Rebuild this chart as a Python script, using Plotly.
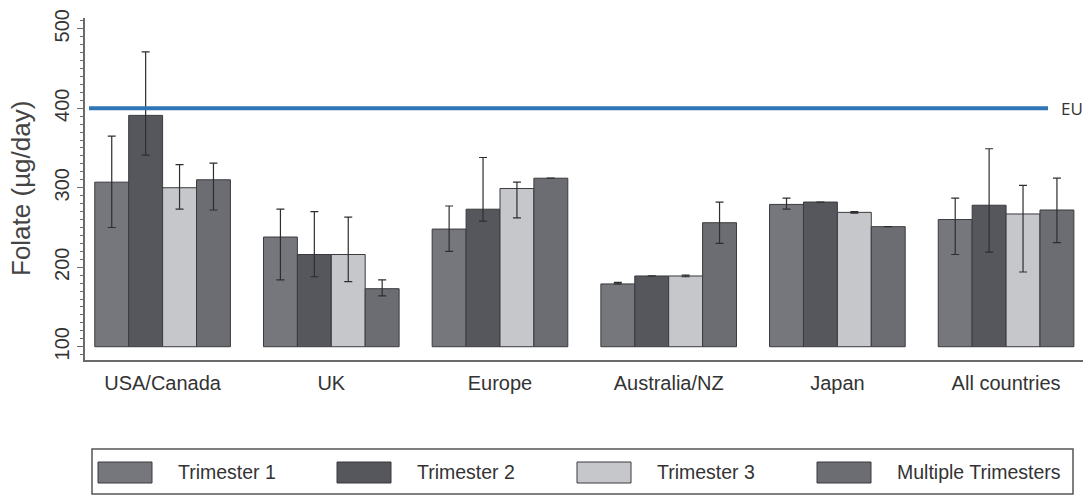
import plotly.graph_objects as go

# Region categories and dietary folate intake by trimester (µg/day)
regions = ["USA/Canada", "UK", "Europe", "Australia/NZ", "Japan", "All countries"]
series_names = ["Trimester 1", "Trimester 2", "Trimester 3", "Multiple Trimesters"]

trimester1 = [307, 238, 248, 179, 279, 260]
trimester2 = [391, 216, 273, 189, 282, 278]
trimester3 = [300, 216, 299, 189, 269, 267]
multiple = [310, 173, 312, 256, 251, 272]

# 95% confidence limits (None where no interval is reported)
t1_lo = [250, 184, 220, 179, 273, 216]
t1_hi = [365, 273, 277, 181, 287, 287]
t2_lo = [341, 188, 258, None, None, 219]
t2_hi = [471, 270, 338, None, None, 349]
t3_lo = [273, 182, 262, 188, 268, 194]
t3_hi = [329, 263, 307, 190, 270, 303]
m_lo = [272, 164, None, 230, None, 231]
m_hi = [331, 184, None, 282, None, 312]

eu_reference = 400
y_ticks = [100, 200, 300, 400, 500]

colors = ["#76777c", "#55575c", "#c5c7ca", "#6b6d72"]
BASE = 100

TEXT_FONT = "Liberation Sans, Arial, sans-serif"

# plot-area geometry in pixels (used to place the hand-drawn legend)
L, R, T, B = 85, 1083, 18, 360


def px_x(px):
    return (px - L) / (R - L)


def px_y(py):
    return (B - py) / (B - T)


fig = go.Figure()

for name, vals, lo, hi, col in zip(
    series_names,
    [trimester1, trimester2, trimester3, multiple],
    [t1_lo, t2_lo, t3_lo, m_lo],
    [t1_hi, t2_hi, t3_hi, m_hi],
    colors,
):
    plus = [(h - v) if h is not None else 0 for v, h in zip(vals, hi)]
    minus = [(v - l) if l is not None else 0 for v, l in zip(vals, lo)]
    vis = [h is not None for h in hi]
    fig.add_trace(
        go.Bar(
            name=name,
            x=regions,
            y=[v - BASE for v in vals],
            base=BASE,
            marker=dict(color=col, line=dict(color="#3a3b3e", width=1)),
            error_y=dict(
                type="data",
                symmetric=False,
                array=[p if s else None for p, s in zip(plus, vis)],
                arrayminus=[m if s else None for m, s in zip(minus, vis)],
                color="#2e2e2e",
                thickness=1.2,
                width=4,
            ),
            showlegend=False,
            hoverinfo="skip",
        )
    )

# EU reference line
fig.add_shape(
    type="line",
    xref="paper",
    yref="y",
    x0=px_x(89),
    x1=px_x(1048),
    y0=eu_reference,
    y1=eu_reference,
    line=dict(color="#2e75b6", width=4),
)
fig.add_annotation(
    xref="paper",
    yref="y",
    x=px_x(1059),
    y=eu_reference,
    text="EU",
    showarrow=False,
    xanchor="left",
    yanchor="middle",
    font=dict(family="Open Sans, sans-serif", size=17, color="#333333"),
)

# y-axis title
fig.add_annotation(
    xref="paper",
    yref="paper",
    x=px_x(21),
    y=px_y(189),
    text="Folate (µg/day)",
    textangle=-90,
    showarrow=False,
    xanchor="center",
    yanchor="middle",
    font=dict(family=TEXT_FONT, size=26, color="#444444"),
)

# legend box with large swatches
fig.add_shape(
    type="rect",
    xref="paper",
    yref="paper",
    x0=px_x(92),
    x1=px_x(1073),
    y0=px_y(449),
    y1=px_y(494),
    line=dict(color="#555555", width=1.5),
    fillcolor="white",
)
swatch_left = [98, 337, 577, 817]
for name, col, sx in zip(series_names, colors, swatch_left):
    fig.add_shape(
        type="rect",
        xref="paper",
        yref="paper",
        x0=px_x(sx),
        x1=px_x(sx + 54),
        y0=px_y(462),
        y1=px_y(483),
        line=dict(color="#3a3b3e", width=1),
        fillcolor=col,
    )
    fig.add_annotation(
        xref="paper",
        yref="paper",
        x=px_x(sx + 78),
        y=px_y(472),
        text=name,
        showarrow=False,
        xanchor="left",
        yanchor="middle",
        font=dict(family=TEXT_FONT, size=19.5, color="#333333"),
    )

fig.update_layout(
    width=1090,
    height=498,
    margin=dict(l=L, r=1090 - R, t=T, b=498 - B),
    paper_bgcolor="white",
    plot_bgcolor="white",
    barmode="group",
    bargap=0.196,
    bargroupgap=0,
    showlegend=False,
)

fig.update_xaxes(
    type="category",
    range=[-0.46, 5.456],
    showline=True,
    linecolor="#6a6a6a",
    linewidth=1.5,
    ticks="",
    ticklabelstandoff=4,
    showgrid=False,
    tickfont=dict(family=TEXT_FONT, size=20, color="#333333"),
)

fig.update_yaxes(
    range=[83.3, 513.5],
    showline=True,
    linecolor="#6a6a6a",
    linewidth=1.5,
    showgrid=False,
    zeroline=False,
    tickmode="array",
    tickvals=y_ticks,
    ticktext=[str(v) for v in y_ticks],
    ticks="outside",
    ticklen=6,
    tickcolor="#6a6a6a",
    tickangle=-90,
    minor=dict(dtick=10, tick0=100, ticks="outside", ticklen=3, tickcolor="#6a6a6a", showgrid=False),
    tickfont=dict(family=TEXT_FONT, size=20, color="#333333"),
)

fig.write_html("out.html")
